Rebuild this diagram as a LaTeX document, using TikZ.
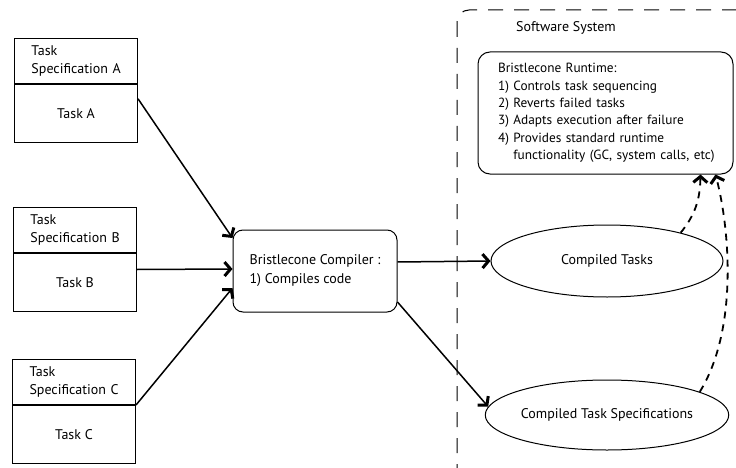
\documentclass[tikz,border=0pt]{standalone}
\usepackage{fontspec}
\setmainfont{PT Sans}
\usetikzlibrary{arrows.meta,calc,shapes.geometric}

\begin{document}
\begin{tikzpicture}[x=1pt,y=-1pt,
  font=\fontsize{14}{17.5}\selectfont,
  specbox/.style={draw,line width=1pt,anchor=north west,minimum width=123pt,
    minimum height=45pt,inner xsep=0pt,text width=115pt,align=left,
    execute at begin node={\leftskip=13pt}},
  taskbox/.style={draw,line width=1pt,anchor=north west,minimum width=123pt,
    minimum height=58pt,inner sep=0pt},
  roundbox/.style={draw,line width=1pt,rounded corners=10pt,inner sep=0pt},
  oval/.style={draw,ellipse,line width=1pt,inner sep=0pt},
  flow/.style={line width=1.5pt,-{Straight Barb[length=6pt,width=14pt,line width=3pt]}},
  uses/.style={line width=1.8pt,dash pattern=on 7pt off 6pt,
    -{Straight Barb[length=6pt,width=14pt,line width=3pt]}},
  frame/.style={line width=1pt,dash pattern=on 15pt off 11pt,rounded corners=12pt}]

\clip (0,0) rectangle (736,468);

% software system boundary
\draw[frame] (457,10) rectangle (790,520);
\node (sys) at (566,28) {Software System};

% task specifications and tasks
\node[specbox] (specA) at (14,38) {Task\\Specification A};
\node[taskbox] (taskA) at (specA.south west) {Task A};
\node[specbox] (specB) at (13,207) {Task\\Specification B};
\node[taskbox] (taskB) at (specB.south west) {Task B};
\node[specbox] (specC) at (12,359) {Task\\Specification C};
\node[taskbox] (taskC) at (specC.south west) {Task C};

% compiler
\node[roundbox,minimum width=164pt,minimum height=82pt,align=left,
  font=\fontsize{14}{19}\selectfont]
  (cmp) at (315,271) {Bristlecone Compiler :\\1) Compiles code};

% runtime
\node[roundbox,rounded corners=12pt,minimum width=255pt,minimum height=122pt,
  inner xsep=0pt,text width=235pt,align=left,
  font=\fontsize{13.3}{17.4}\selectfont,
  execute at begin node={\leftskip=10pt}]
  (rt) at (605.5,113) {Bristlecone Runtime:\\
    1) Controls task sequencing\\
    2) Reverts failed tasks\\
    3) Adapts execution after failure\\
    4)~\parbox[t]{215pt}{\raggedright Provides standard runtime\\
      functionality (GC, system calls, etc)}};

% compiled artefacts
\node[oval,minimum width=232pt,minimum height=72pt] (ct) at (607,261) {Compiled Tasks};
\node[oval,minimum width=234pt,minimum height=70pt] (cts) at (607,415) {Compiled Task Specifications};

% compilation flow
\draw[flow] ($(taskA.north east)!0.25!(taskA.south east)$) -- ([yshift=33pt]cmp.west);
\draw[flow] ([yshift=13pt]taskB.east) -- ([yshift=2pt]cmp.west);
\draw[flow] (taskC.north east) -- ([yshift=-17pt]cmp.west);
\draw[flow] ([yshift=9pt]cmp.east) -- (ct.west);
\draw[flow] ([yshift=-31pt]cmp.east) -- (cts.176);

% runtime dependencies
\draw[uses] (ct.21) .. controls (695,215) and (700,200) .. ([xshift=-33pt]rt.south east);
\draw[uses] (cts.14) .. controls (738,330) and (730,230) .. ([xshift=-18pt]rt.south east);
\end{tikzpicture}
\end{document}
